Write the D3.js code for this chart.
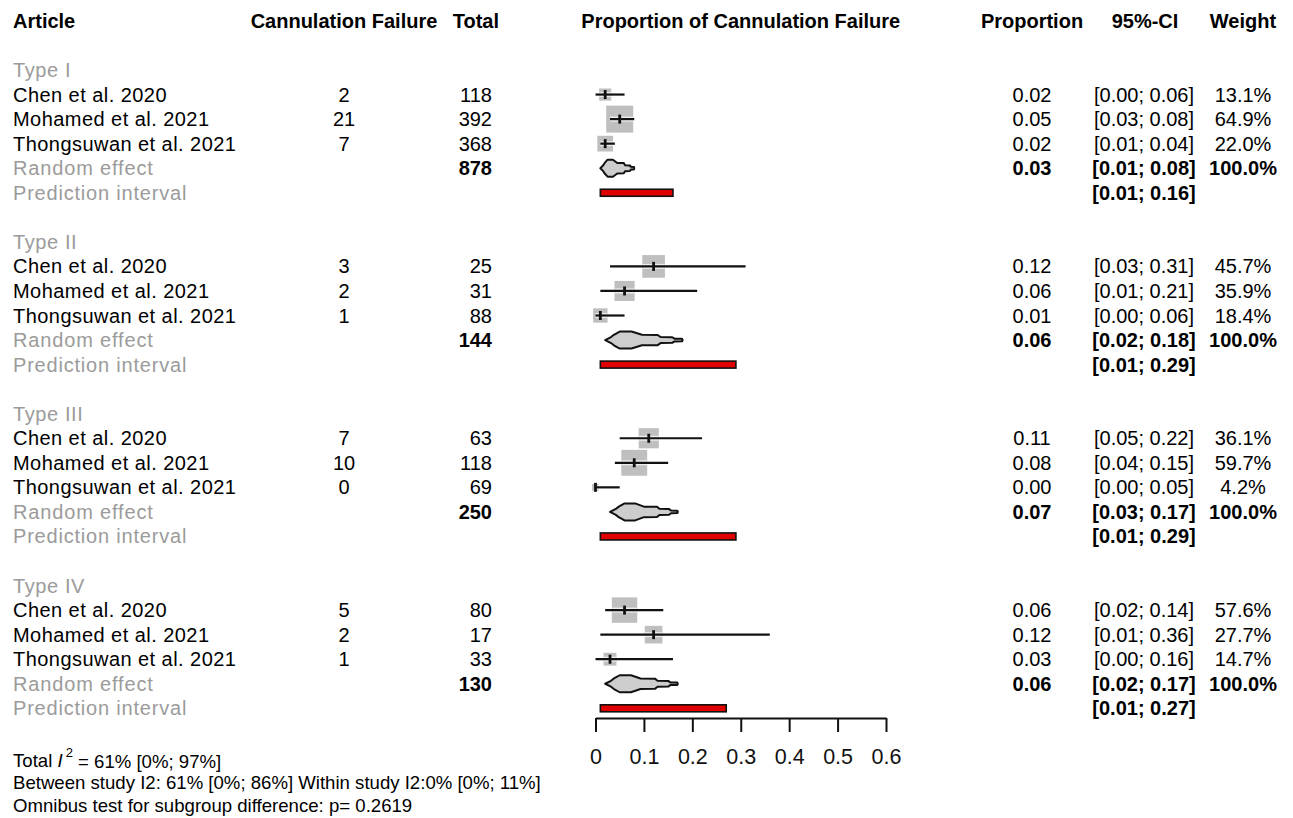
<!DOCTYPE html>
<html>
<head>
<meta charset="utf-8">
<script src="https://cdn.jsdelivr.net/npm/d3@7"></script>
<style>
  html, body { margin: 0; padding: 0; background: #ffffff; }
  svg { display: block; font-family: "Liberation Sans", Arial, sans-serif; }
</style>
</head>
<body>
<svg id="chart" width="1293" height="818"></svg>
<script>
// Subgroups and studies
const groups = ["Type I", "Type II", "Type III", "Type IV"];
const studies = ["Chen et al. 2020", "Mohamed et al. 2021", "Thongsuwan et al. 2021"];

// Per-study counts (rows follow the study order above)
const events = [[2, 21, 7], [3, 2, 1], [7, 10, 0], [5, 2, 1]];
const totals = [[118, 392, 368], [25, 31, 88], [63, 118, 69], [80, 17, 33]];

// Per-study proportions, 95% CI and weights (%)
const props   = [[0.02, 0.05, 0.02], [0.12, 0.06, 0.01], [0.11, 0.08, 0.00], [0.06, 0.12, 0.03]];
const ciLow   = [[0.00, 0.03, 0.01], [0.03, 0.01, 0.00], [0.05, 0.04, 0.00], [0.02, 0.01, 0.00]];
const ciHigh  = [[0.06, 0.08, 0.04], [0.31, 0.21, 0.06], [0.22, 0.15, 0.05], [0.14, 0.36, 0.16]];
const weights = [[13.1, 64.9, 22.0], [45.7, 35.9, 18.4], [36.1, 59.7, 4.2], [57.6, 27.7, 14.7]];

// Random-effects summaries and prediction intervals per subgroup
const pooledN    = [878, 144, 250, 130];
const pooledProp = [0.03, 0.06, 0.07, 0.06];
const pooledLow  = [0.01, 0.02, 0.03, 0.02];
const pooledHigh = [0.08, 0.18, 0.17, 0.17];
const predLow    = [0.01, 0.01, 0.01, 0.01];
const predHigh   = [0.16, 0.29, 0.29, 0.27];

// Axis ticks
const xTicks = [0, 0.1, 0.2, 0.3, 0.4, 0.5, 0.6];

// Footer notes
const footer = {
  totalI2: "= 61% [0%; 97%]",
  between: "Between study I2: 61% [0%; 86%] Within study I2:0% [0%; 11%]",
  omnibus: "Omnibus test for subgroup difference: p= 0.2619"
};

const svg = d3.select("#chart");
const GRAY = "#9b9b9b";
const FS = 20;
const LABEL_SPACING = "0.6px";

const x = d3.scaleLinear().domain([0, 0.6]).range([595.5, 886]);
const rowsPerGroup = 7;
const y = d3.scaleLinear().domain([0, 26]).range([70, 70 + 26 * 24.55]);
const boxSize = d3.scaleSqrt().domain([0, 64.9]).range([0, 27]);

const f2 = d3.format(".2f");
const ciText = (lo, hi) => `[${f2(lo)}; ${f2(hi)}]`;

// Column positions
const col = {
  article: 13,
  events: 344,
  total: 492,
  prop: 1032,
  ci: 1144,
  weight: 1243
};

// Header row
const header = svg.append("g").attr("font-weight", "bold").attr("font-size", FS);
const hy = 21;
header.append("text").attr("x", col.article).attr("y", hy).attr("dy", "0.35em").text("Article");
header.append("text").attr("x", col.events).attr("y", hy).attr("dy", "0.35em").attr("text-anchor", "middle").text("Cannulation Failure");
header.append("text").attr("x", 499).attr("y", hy).attr("dy", "0.35em").attr("text-anchor", "end").text("Total");
header.append("text").attr("x", (x.range()[0] + x.range()[1]) / 2).attr("y", hy).attr("dy", "0.35em").attr("text-anchor", "middle").text("Proportion of Cannulation Failure");
header.append("text").attr("x", col.prop).attr("y", hy).attr("dy", "0.35em").attr("text-anchor", "middle").text("Proportion");
header.append("text").attr("x", col.ci + 1).attr("y", hy).attr("dy", "0.35em").attr("text-anchor", "middle").text("95%-CI");
header.append("text").attr("x", col.weight).attr("y", hy).attr("dy", "0.35em").attr("text-anchor", "middle").text("Weight");

// Summary shape: a stepped diamond spanning the pooled CI with its peak at the estimate
function summaryShape(lo, est, hi, H) {
  const L = est - lo, R = hi - est;
  const top = [
    [lo, 0],
    [lo + 0.30 * L, 0.35],
    [lo + 0.45 * L, 0.62],
    [lo + 0.75 * L, 1.0],
    [est + 0.12 * R, 1.0],
    [est + 0.30 * R, 0.62],
    [est + 0.57 * R, 0.60],
    [est + 0.62 * R, 0.36],
    [est + 0.82 * R, 0.33],
    [est + 0.86 * R, 0.16],
    [hi - 0.01 * R, 0.14],
    [hi, 0]
  ];
  const bottom = top.slice(1, -1).reverse().map(([v, h]) => [v, -h]);
  return top.concat(bottom).map(([v, h]) => [x(v), -h * H]);
}

const body = svg.append("g").attr("font-size", FS);

groups.forEach((g, gi) => {
  const base = gi * rowsPerGroup;

  // Subgroup title
  body.append("text").attr("x", col.article).attr("y", y(base)).attr("dy", "0.35em")
    .attr("letter-spacing", LABEL_SPACING).attr("fill", GRAY).text(g);

  studies.forEach((s, si) => {
    const ry = y(base + 1 + si);
    const row = body.append("g");
    row.append("text").attr("x", col.article).attr("y", ry).attr("dy", "0.35em").attr("letter-spacing", "0.45px").text(s);
    row.append("text").attr("x", col.events).attr("y", ry).attr("dy", "0.35em").attr("text-anchor", "middle").text(events[gi][si]);
    row.append("text").attr("x", col.total).attr("y", ry).attr("dy", "0.35em").attr("text-anchor", "end").text(totals[gi][si]);
    row.append("text").attr("x", col.prop).attr("y", ry).attr("dy", "0.35em").attr("text-anchor", "middle").text(f2(props[gi][si]));
    row.append("text").attr("x", col.ci).attr("y", ry).attr("dy", "0.35em").attr("text-anchor", "middle").text(ciText(ciLow[gi][si], ciHigh[gi][si]));
    row.append("text").attr("x", col.weight).attr("y", ry).attr("dy", "0.35em").attr("text-anchor", "middle").text(d3.format(".1f")(weights[gi][si]) + "%");

    // Weight box, CI line and estimate tick
    const sz = boxSize(weights[gi][si]);
    const cx = x(props[gi][si]);
    svg.append("rect")
      .attr("x", cx - sz / 2).attr("y", ry - sz / 2)
      .attr("width", sz).attr("height", sz)
      .attr("fill", "#bfbfbf");
    const lx = x(ciLow[gi][si]), hx = x(ciHigh[gi][si]);
    svg.append("line")
      .attr("x1", Math.max(lx, cx - sz / 2)).attr("x2", Math.min(hx, cx + sz / 2))
      .attr("y1", ry).attr("y2", ry)
      .attr("stroke", "#ececec").attr("stroke-width", 5);
    svg.append("line")
      .attr("x1", lx).attr("x2", hx).attr("y1", ry).attr("y2", ry)
      .attr("stroke", "#111").attr("stroke-width", 2.2);
    svg.append("line")
      .attr("x1", cx).attr("x2", cx).attr("y1", ry - 4.5).attr("y2", ry + 4.5)
      .attr("stroke", "#111").attr("stroke-width", 2.8);
  });

  // Random effect row
  const ey = y(base + 4);
  body.append("text").attr("x", col.article).attr("y", ey).attr("dy", "0.35em")
    .attr("letter-spacing", "0.85px").attr("fill", GRAY).text("Random effect");
  const bold = body.append("g").attr("font-weight", "bold");
  bold.append("text").attr("x", col.total).attr("y", ey).attr("dy", "0.35em").attr("text-anchor", "end").text(pooledN[gi]);
  bold.append("text").attr("x", col.prop).attr("y", ey).attr("dy", "0.35em").attr("text-anchor", "middle").text(f2(pooledProp[gi]));
  bold.append("text").attr("x", col.ci).attr("y", ey).attr("dy", "0.35em").attr("text-anchor", "middle").text(ciText(pooledLow[gi], pooledHigh[gi]));
  bold.append("text").attr("x", col.weight).attr("y", ey).attr("dy", "0.35em").attr("text-anchor", "middle").text("100.0%");

  svg.append("path")
    .attr("transform", `translate(0,${ey})`)
    .attr("d", d3.line()(summaryShape(pooledLow[gi], pooledProp[gi], pooledHigh[gi], 8.5)) + "Z")
    .attr("fill", "#cdcdcd").attr("stroke", "#111").attr("stroke-width", 2)
    .attr("stroke-linejoin", "round");

  // Prediction interval row
  const py = y(base + 5);
  body.append("text").attr("x", col.article).attr("y", py).attr("dy", "0.35em")
    .attr("letter-spacing", "0.8px").attr("fill", GRAY).text("Prediction interval");
  bold.append("text").attr("x", col.ci).attr("y", py).attr("dy", "0.35em").attr("text-anchor", "middle").text(ciText(predLow[gi], predHigh[gi]));
  svg.append("rect")
    .attr("x", x(predLow[gi])).attr("y", py - 3.5)
    .attr("width", x(predHigh[gi]) - x(predLow[gi])).attr("height", 7)
    .attr("fill", "#e00000").attr("stroke", "#111").attr("stroke-width", 1.6);
});

// Proportion axis
const axis = svg.append("g")
  .attr("transform", "translate(0,718)")
  .call(d3.axisBottom(x).tickValues(xTicks).tickSize(14).tickSizeOuter(0).tickPadding(17).tickFormat(d3.format("")));
axis.select(".domain").attr("stroke", "#111").attr("stroke-width", 2);
axis.selectAll(".tick line").attr("stroke", "#111").attr("stroke-width", 2);
axis.selectAll(".tick text")
  .attr("font-size", 21.5).attr("font-family", "'Liberation Sans', Arial, sans-serif").attr("fill", "#111");

// Footer notes
const foot = svg.append("g").attr("font-size", 18.6);
const t1 = foot.append("text").attr("x", 13).attr("y", 760).attr("dy", "0.35em");
t1.append("tspan").text("Total ");
t1.append("tspan").attr("font-style", "italic").text("I");
t1.append("tspan").attr("font-size", 13).attr("dx", "3").attr("dy", "-0.75em").text("2");
t1.append("tspan").attr("dy", "0.6em").text(" " + footer.totalI2);
foot.append("text").attr("x", 13).attr("y", 782).attr("dy", "0.35em").text(footer.between);
foot.append("text").attr("x", 13).attr("y", 805).attr("dy", "0.35em").text(footer.omnibus);
</script>
</body>
</html>
